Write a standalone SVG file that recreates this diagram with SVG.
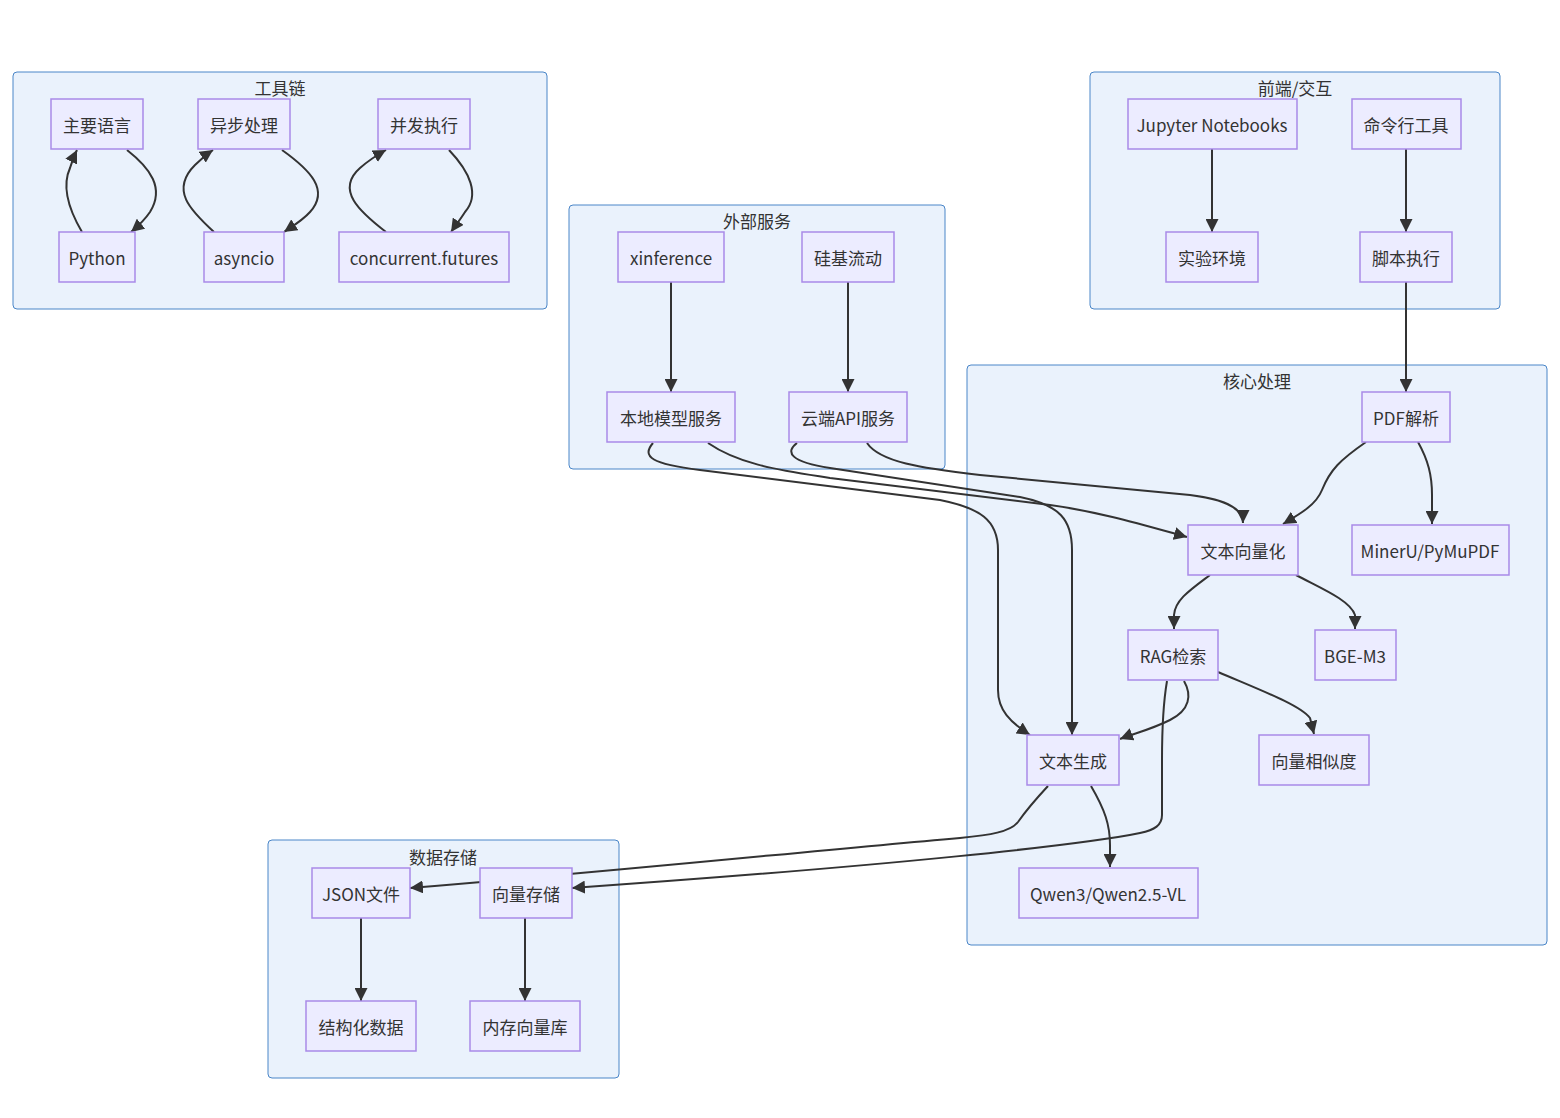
<svg xmlns="http://www.w3.org/2000/svg" width="1560" height="1118" viewBox="0 0 1560 1118">
<style>
.cluster rect{fill:#EAF2FC;stroke:#4A86C8;stroke-width:1}
.node rect{fill:#ECECFF;stroke:#A98AE8;stroke-width:1.5}
text{font-family:"Noto Sans CJK SC","Noto Sans",sans-serif;font-size:17px;fill:#333;text-anchor:middle;dominant-baseline:central}
.edge{fill:none;stroke:#333;stroke-width:2;marker-end:url(#arrow)}
</style>
<defs>
<marker id="arrow" viewBox="0 0 10 10" refX="10" refY="5" markerWidth="13" markerHeight="13" markerUnits="userSpaceOnUse" orient="auto">
<path d="M0,0 L10,5 L0,10 z" fill="#333"/>
</marker>
</defs>
<rect width="1560" height="1118" fill="#fff"/>
<g id="clusters">
<g id="cluster-toolchain" class="cluster"><rect x="13" y="72" width="534" height="237" rx="4"/><text x="280" y="87">工具链</text></g>
<g id="cluster-external" class="cluster"><rect x="569" y="205" width="376" height="264" rx="4"/><text x="757" y="220">外部服务</text></g>
<g id="cluster-frontend" class="cluster"><rect x="1090" y="72" width="410" height="237" rx="4"/><text x="1295" y="87">前端/交互</text></g>
<g id="cluster-core" class="cluster"><rect x="967" y="365" width="580" height="580" rx="4"/><text x="1257" y="380">核心处理</text></g>
<g id="cluster-storage" class="cluster"><rect x="268" y="840" width="351" height="238" rx="4"/><text x="443" y="856">数据存储</text></g>
</g>
<g id="edges">
<path class="edge" d="M127,150 C150,168 165,188 150,212 C144,221 137,227 131,232"/>
<path class="edge" d="M82,232 C72,215 60,190 70,168 C72,162 74,156 77,150"/>
<path class="edge" d="M282,150 C310,170 330,190 310,212 C303,220 293,226 284,232"/>
<path class="edge" d="M214,232 C190,210 170,190 195,165 C201,159 207,154 213,150"/>
<path class="edge" d="M449,150 C470,172 480,195 465,212 C460,220 455,226 451,232"/>
<path class="edge" d="M386,232 C360,212 335,190 360,168 C368,161 377,155 386,150"/>
<path class="edge" d="M671,282 L671,392"/>
<path class="edge" d="M848,282 L848,392"/>
<path class="edge" d="M1212,149 L1212,232"/>
<path class="edge" d="M1406,149 L1406,232"/>
<path class="edge" d="M1406,282 L1406,392"/>
<path class="edge" d="M653,443 C641,457 652,464 700,470 L940,500 C980,508 998,520 998,550 L998,690 C998,710 1010,722 1030,735"/>
<path class="edge" d="M708,443 C740,465 780,470 830,478 L1050,505 C1100,512 1140,524 1187,537"/>
<path class="edge" d="M797,443 C785,452 790,462 830,468 L1020,497 C1060,505 1072,520 1072,550 L1072,735"/>
<path class="edge" d="M867,443 C880,462 920,468 980,475 L1190,495 C1230,500 1243,510 1243,523"/>
<path class="edge" d="M1366,442 C1340,460 1330,470 1322,490 C1316,505 1300,514 1283,524"/>
<path class="edge" d="M1418,442 C1428,460 1432,475 1432,495 L1432,524"/>
<path class="edge" d="M1210,575 C1190,590 1175,600 1174,615 L1174,629"/>
<path class="edge" d="M1296,575 C1320,588 1350,600 1355,615 L1355,629"/>
<path class="edge" d="M1218,672 C1260,690 1300,705 1310,718 L1314,734"/>
<path class="edge" d="M1184,681 C1192,695 1190,710 1170,720 C1150,730 1135,733 1120,739"/>
<path class="edge" d="M1167,681 C1162,710 1162,740 1162,760 L1162,815 C1162,825 1155,830 1140,833 C1080,845 900,865 572,888"/>
<path class="edge" d="M1048,786 C1035,800 1025,812 1018,822 C1010,832 990,835 960,838 C800,852 650,868 410,888"/>
<path class="edge" d="M1091,786 C1105,810 1110,825 1110,845 L1110,867"/>
<path class="edge" d="M361,918 L361,1001"/>
<path class="edge" d="M525,918 L525,1001"/>
</g>
<g id="nodes">
<g id="n-main-lang" class="node"><rect x="51" y="99" width="92" height="50"/><text x="97" y="124">主要语言</text></g>
<g id="n-python" class="node"><rect x="59" y="232" width="76" height="50"/><text x="97" y="257">Python</text></g>
<g id="n-async" class="node"><rect x="198" y="99" width="92" height="50"/><text x="244" y="124">异步处理</text></g>
<g id="n-asyncio" class="node"><rect x="204" y="232" width="80" height="50"/><text x="244" y="257">asyncio</text></g>
<g id="n-concurrent" class="node"><rect x="378" y="99" width="92" height="50"/><text x="424" y="124">并发执行</text></g>
<g id="n-futures" class="node"><rect x="339" y="232" width="170" height="50"/><text x="424" y="257">concurrent.futures</text></g>
<g id="n-xinference" class="node"><rect x="618" y="232" width="106" height="50"/><text x="671" y="257">xinference</text></g>
<g id="n-silicon" class="node"><rect x="802" y="232" width="92" height="50"/><text x="848" y="257">硅基流动</text></g>
<g id="n-local" class="node"><rect x="607" y="392" width="128" height="50"/><text x="671" y="417">本地模型服务</text></g>
<g id="n-cloud" class="node"><rect x="789" y="392" width="118" height="50"/><text x="848" y="417">云端API服务</text></g>
<g id="n-jupyter" class="node"><rect x="1128" y="99" width="169" height="50"/><text x="1212" y="124">Jupyter Notebooks</text></g>
<g id="n-cli" class="node"><rect x="1352" y="99" width="109" height="50"/><text x="1406" y="124">命令行工具</text></g>
<g id="n-exp" class="node"><rect x="1166" y="232" width="92" height="50"/><text x="1212" y="257">实验环境</text></g>
<g id="n-script" class="node"><rect x="1360" y="232" width="92" height="50"/><text x="1406" y="257">脚本执行</text></g>
<g id="n-pdf" class="node"><rect x="1362" y="392" width="88" height="50"/><text x="1406" y="417">PDF解析</text></g>
<g id="n-embed" class="node"><rect x="1188" y="525" width="110" height="50"/><text x="1243" y="550">文本向量化</text></g>
<g id="n-mineru" class="node"><rect x="1352" y="525" width="157" height="50"/><text x="1430" y="550">MinerU/PyMuPDF</text></g>
<g id="n-rag" class="node"><rect x="1128" y="630" width="90" height="50"/><text x="1173" y="655">RAG检索</text></g>
<g id="n-bge" class="node"><rect x="1315" y="630" width="81" height="50"/><text x="1355" y="655">BGE-M3</text></g>
<g id="n-gen" class="node"><rect x="1027" y="735" width="92" height="50"/><text x="1073" y="760">文本生成</text></g>
<g id="n-sim" class="node"><rect x="1259" y="735" width="110" height="50"/><text x="1314" y="760">向量相似度</text></g>
<g id="n-qwen" class="node"><rect x="1019" y="868" width="179" height="50"/><text x="1108" y="893">Qwen3/Qwen2.5-VL</text></g>
<g id="n-json" class="node"><rect x="312" y="868" width="98" height="50"/><text x="361" y="893">JSON文件</text></g>
<g id="n-vecstore" class="node"><rect x="480" y="868" width="92" height="50"/><text x="526" y="893">向量存储</text></g>
<g id="n-struct" class="node"><rect x="306" y="1001" width="110" height="50"/><text x="361" y="1026">结构化数据</text></g>
<g id="n-memvec" class="node"><rect x="470" y="1001" width="110" height="50"/><text x="525" y="1026">内存向量库</text></g>
</g>
</svg>
